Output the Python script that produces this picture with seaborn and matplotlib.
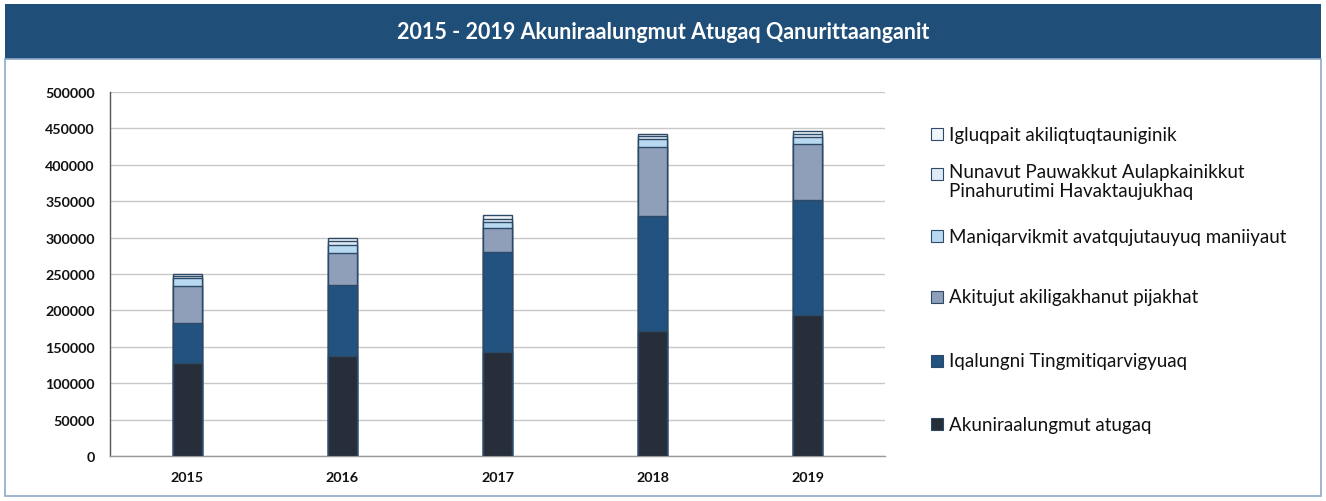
import numpy as np
import pandas as pd
import matplotlib
matplotlib.use("Agg")
import matplotlib.pyplot as plt
from matplotlib.patches import Rectangle
import seaborn as sns

years = ["2015", "2016", "2017", "2018", "2019"]
series_names = [
    "Akuniraalungmut atugaq",
    "Iqalungni Tingmitiqarvigyuaq",
    "Akitujut akiligakhanut pijakhat",
    "Maniqarvikmit avatqujutauyuq maniiyaut",
    "Nunavut Pauwakkut Aulapkainikkut\nPinahurutimi Havaktaujukhaq",
    "Igluqpait akiliqtuqtauniginik",
]
akuniraalungmut = [128000, 137000, 143000, 172000, 194000]
iqalungni = [55000, 98000, 137500, 158000, 157000]
akitujut = [50000, 44000, 32500, 95000, 77700]
maniqarvikmit = [11500, 10500, 8000, 10500, 9300]
nunavut = [3000, 5500, 5000, 3500, 4400]
igluqpait = [2000, 5000, 5000, 3500, 3600]

colors = ["#272e39", "#22527f", "#909fb9", "#b9d9f1", "#dfeaf6", "#f1f4f9"]
edge = "#2d4968"

layers = [akuniraalungmut, iqalungni, akitujut, maniqarvikmit, nunavut, igluqpait]
cum = np.cumsum(np.array(layers), axis=0)

sns.set_theme(style="white")
plt.rcParams["font.family"] = ["Lato", "DejaVu Sans"]

fig = plt.figure(figsize=(13.26, 5.02), dpi=100)

# title banner and frame
fig.patches.append(Rectangle((5 / 1326, 1 - 60 / 502), 1316 / 1326, 55 / 502,
                             transform=fig.transFigure, facecolor="#1f4e79",
                             edgecolor="none", zorder=0))
fig.patches.append(Rectangle((5 / 1326, 5 / 502), 1316 / 1326, 437 / 502,
                             transform=fig.transFigure, facecolor="white",
                             edgecolor="#8ea9c8", linewidth=1.2, zorder=0))
fig.text(0.5, 1 - 33 / 502, "2015 - 2019 Akuniraalungmut Atugaq Qanurittaanganit",
         ha="center", va="center", color="white", fontsize=15.5, fontweight="bold")

ax = fig.add_axes([110 / 1326, 45 / 502, 775 / 1326, 364 / 502])
ax.set_zorder(2)
ax.patch.set_alpha(0)

# draw stacked bars from the top layer down
for i in range(len(layers) - 1, -1, -1):
    df = pd.DataFrame({"year": years, "value": cum[i]})
    sns.barplot(data=df, x="year", y="value", color=colors[i], width=0.19,
                edgecolor=edge, linewidth=1.0, saturation=1, ax=ax, zorder=3)

ax.set_ylim(0, 500000)
ax.set_yticks(np.arange(0, 500001, 50000))
ax.yaxis.grid(True, color="#c8c8c8", linewidth=1.0, zorder=0)
ax.set_axisbelow(True)
ax.set_xlabel("")
ax.set_ylabel("")
for lab in ax.get_yticklabels() + ax.get_xticklabels():
    lab.set_fontweight("bold")
    lab.set_fontsize(10.3)
    lab.set_color("#111111")
ax.tick_params(axis="y", pad=11, length=0)
ax.tick_params(axis="x", pad=11, length=0)
for s in ["top", "right"]:
    ax.spines[s].set_visible(False)
ax.spines["left"].set_color("#555555")
ax.spines["bottom"].set_color("#999999")
ax.spines["left"].set_linewidth(1)
ax.spines["bottom"].set_linewidth(1)

# legend on the right
legend_y = [425, 362, 298, 237, 175, 135]
for i in range(len(series_names)):
    y = legend_y[i]
    fig.patches.append(Rectangle((931 / 1326, 1 - (y + 6) / 502), 12 / 1326, 12 / 502,
                                 transform=fig.transFigure, facecolor=colors[i],
                                 edgecolor=edge, linewidth=0.8, zorder=3))
    two_line = "\n" in series_names[i]
    fig.text(949 / 1326, 1 - (y - 11) / 502 if two_line else 1 - y / 502, series_names[i],
             ha="left", va="top" if two_line else "center",
             fontsize=13.5, color="#111111", linespacing=1.17, zorder=4)

fig.savefig("out.png", dpi=100)
